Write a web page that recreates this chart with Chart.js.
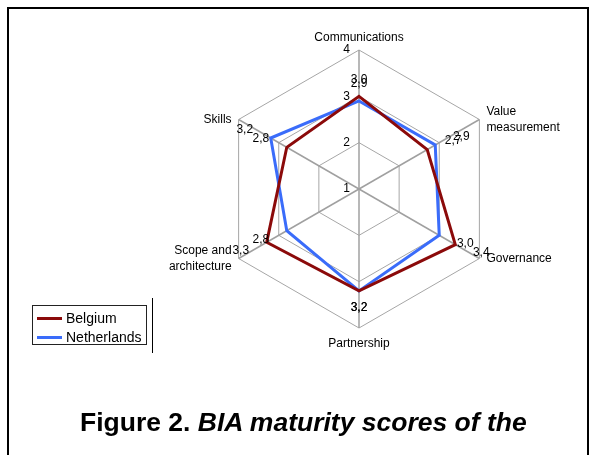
<!DOCTYPE html>
<html>
<head>
<meta charset="utf-8">
<script src="https://cdn.jsdelivr.net/npm/chart.js@4.4.1/dist/chart.umd.min.js"></script>
<style>
  html, body { margin: 0; padding: 0; background: #fff; }
  #wrap { position: relative; width: 595px; height: 455px; overflow: hidden; font-family: "Liberation Sans", Arial, sans-serif; }
  #frame { position: absolute; left: 7px; top: 7px; width: 578px; height: 460px; border-top: 2px solid #000; border-left: 2px solid #000; border-right: 2px solid #000; }
  canvas { position: absolute; left: 0; top: 0; }
  #legend { position: absolute; left: 32px; top: 305px; width: 115px; height: 40px; border: 1px solid #222; box-sizing: border-box; font-size: 14px; color: #000; }
  .item { position: absolute; left: 0; height: 20px; line-height: 20px; }
  .sw { position: absolute; left: 4px; width: 25px; height: 3px; }
  .txt { position: absolute; left: 33px; white-space: nowrap; }
  #vline { position: absolute; left: 152px; top: 298px; width: 1px; height: 55px; background: #000; }
  #caption { position: absolute; left: 80px; top: 407px; font-size: 26.5px; line-height: 30px; font-weight: bold; white-space: nowrap; color: #000; }
</style>
</head>
<body>
<div id="wrap">
  <div id="frame"></div>
  <canvas id="c" width="595" height="455"></canvas>
  <div id="legend">
    <div class="item" style="top:2px"><div class="sw" style="top:9px;background:#8B0A0A"></div><span class="txt" id="l0"></span></div>
    <div class="item" style="top:21px"><div class="sw" style="top:9px;background:#3A6CFA"></div><span class="txt" id="l1"></span></div>
  </div>
  <div id="vline"></div>
  <div id="caption">Figure 2. <i>BIA maturity scores of the</i></div>
</div>
<script>
const categories = [['Communications'], ['Value', 'measurement'], ['Governance'], ['Partnership'], ['Scope and', 'architecture'], ['Skills']];
const seriesNames = ['Belgium', 'Netherlands'];
const belgium = [3.0, 2.7, 3.4, 3.2, 3.3, 2.8];
const netherlands = [2.9, 2.9, 3.0, 3.2, 2.8, 3.2];
const tickValues = [1, 2, 3, 4];

document.getElementById('l0').textContent = seriesNames[0];
document.getElementById('l1').textContent = seriesNames[1];

const FONT = '"Liberation Sans", Arial, sans-serif';

const labelPlugin = {
  id: 'customLabels',
  afterDraw(chart) {
    const ctx = chart.ctx;
    const scale = chart.scales.r;
    ctx.save();
    ctx.fillStyle = '#000';
    ctx.font = '12px ' + FONT;
    // tick labels, left of the vertical axis
    tickValues.forEach(v => {
      const y = scale.yCenter - scale.getDistanceFromCenterForValue(v);
      ctx.textAlign = 'right';
      ctx.textBaseline = 'middle';
      ctx.fillText(String(v), scale.xCenter - 9, y);
    });
    // point (category) labels
    chart.data.labels.forEach((lab, i) => {
      const p = scale.getPointPosition(i, scale.drawingArea);
      const a = scale.getIndexAngle(i);
      const s = Math.sin(a), c = Math.cos(a);
      const lines = Array.isArray(lab) ? lab : [lab];
      if (Math.abs(s) < 0.01) {
        ctx.textAlign = 'center';
        if (c > 0) {
          ctx.textBaseline = 'alphabetic';
          lines.forEach((t, k) => ctx.fillText(t, p.x, p.y - 9 - (lines.length - 1 - k) * 15));
        } else {
          ctx.textBaseline = 'top';
          lines.forEach((t, k) => ctx.fillText(t, p.x, p.y + 10 + k * 15));
        }
      } else {
        ctx.textAlign = s > 0 ? 'left' : 'right';
        ctx.textBaseline = 'middle';
        const x = p.x + (s > 0 ? 7 : -7);
        const y0 = p.y - (lines.length - 1) * 15.5 / 2;
        lines.forEach((t, k) => ctx.fillText(t, x, y0 + k * 15.5));
      }
    });
    // data labels
    chart.data.datasets.forEach(ds => {
      ds.data.forEach((v, i) => {
        const p = scale.getPointPositionForValue(i, v);
        const a = scale.getIndexAngle(i);
        const x = p.x + Math.sin(a) * 30;
        const y = p.y - Math.cos(a) * 17;
        ctx.textAlign = 'center';
        ctx.textBaseline = 'middle';
        ctx.fillText(v.toFixed(1).replace('.', ','), x, y);
      });
    });
    ctx.restore();
  }
};

new Chart(document.getElementById('c'), {
  type: 'radar',
  data: {
    labels: categories,
    datasets: [
      { label: seriesNames[0], data: belgium, borderColor: '#8B0A0A', borderWidth: 3, pointRadius: 0, pointHoverRadius: 0, fill: false, tension: 0 },
      { label: seriesNames[1], data: netherlands, borderColor: '#3A6CFA', borderWidth: 3, pointRadius: 0, pointHoverRadius: 0, fill: false, tension: 0 }
    ]
  },
  options: {
    responsive: false,
    animation: false,
    devicePixelRatio: 1,
    layout: { padding: { top: 50, bottom: 127, left: 129, right: 6 } },
    plugins: { legend: { display: false }, title: { display: false }, tooltip: { enabled: false } },
    scales: {
      r: {
        min: 1,
        max: 4,
        ticks: { stepSize: 1, display: false },
        grid: { color: '#a6a6a6', lineWidth: 1 },
        angleLines: { color: '#a0a0a0', lineWidth: 1.5 },
        pointLabels: { display: false }
      }
    }
  },
  plugins: [labelPlugin]
});
</script>
</body>
</html>
